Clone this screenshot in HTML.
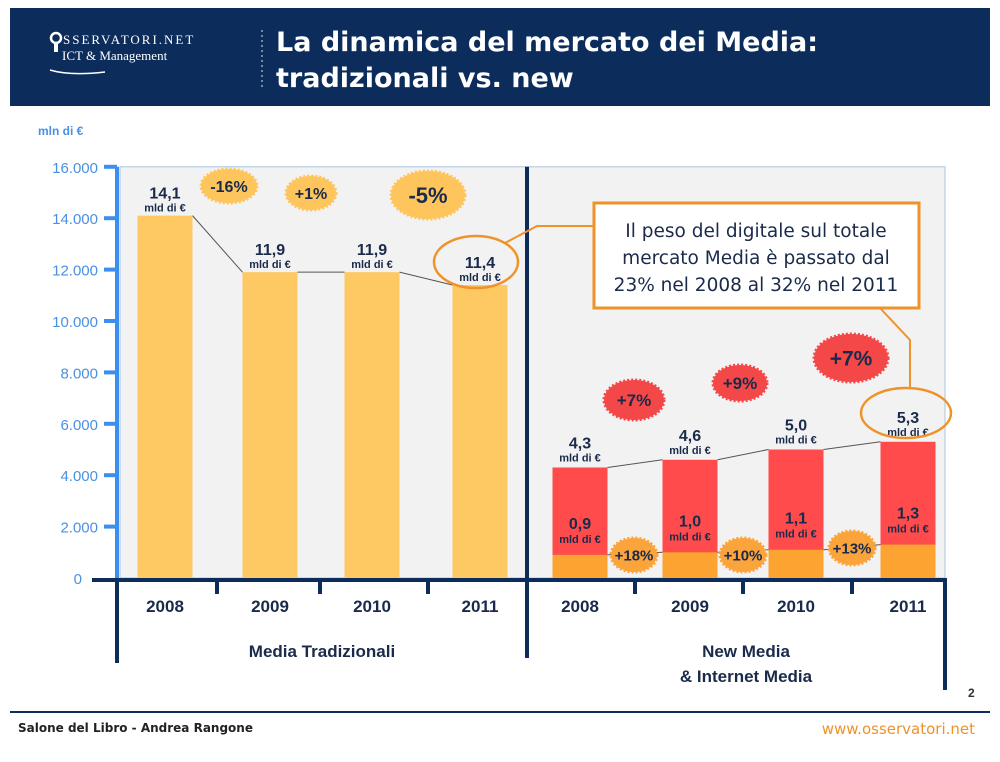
<!DOCTYPE html>
<html><head><meta charset="utf-8"><style>
body{margin:0;background:#fff;}
svg text{font-family:"Liberation Sans",sans-serif;}
</style></head><body>
<svg width="1000" height="757" xmlns="http://www.w3.org/2000/svg">
<rect x="10" y="8" width="980" height="98" fill="#0c2d5c"/>
<g>
<circle cx="56" cy="38" r="5" fill="none" stroke="#fff" stroke-width="2.5"/>
<rect x="54" y="43" width="4" height="9" fill="#fff"/>
<text x="63" y="44" fill="#fff" font-size="13" letter-spacing="2" style="font-family:'Liberation Serif',serif">SSERVATORI.NET</text>
<text x="62" y="60" fill="#fff" font-size="13" style="font-family:'Liberation Serif',serif">ICT &amp; Management</text>
<path d="M50 70 Q 70 76 105 72" stroke="#fff" fill="none" stroke-width="1.5"/>
</g>
<line x1="262" y1="30" x2="262" y2="90" stroke="#9ab" stroke-width="1.5" stroke-dasharray="2 3"/>
<text x="276" y="51" fill="#fff" font-size="27" font-weight="bold" style="font-family:'DejaVu Sans',sans-serif">La dinamica del mercato dei Media:</text>
<text x="276" y="87" fill="#fff" font-size="27" font-weight="bold" style="font-family:'DejaVu Sans',sans-serif">tradizionali vs. new</text>
<text x="38" y="135" fill="#4a90e2" font-size="12" font-weight="bold">mln di €</text>
<g id="chart"></g>
<line x1="10" y1="712" x2="990" y2="712" stroke="#0c2d5c" stroke-width="2"/>
<text x="18" y="732" fill="#222" font-size="12" font-weight="bold" style="font-family:'DejaVu Sans',sans-serif">Salone del Libro - Andrea Rangone</text>
<text x="975" y="734" fill="#f0922a" font-size="15" text-anchor="end" style="font-family:'DejaVu Sans',sans-serif">www.osservatori.net</text>
<text x="968" y="697" fill="#333" font-size="12" font-weight="bold">2</text>
</svg>
<script>
const years=["2008","2009","2010","2011"];
const tradValues=[14100,11900,11900,11400];
const tradLabels=["14,1","11,9","11,9","11,4"];
const newTotal=[4300,4600,5000,5300];
const newTotalLabels=["4,3","4,6","5,0","5,3"];
const internetValues=[900,1000,1100,1300];
const internetLabels=["0,9","1,0","1,1","1,3"];
const tradGrowth=["-16%","+1%","-5%"];
const newGrowth=["+7%","+9%","+7%"];
const internetGrowth=["+18%","+10%","+13%"];
const yTicks=[0,2000,4000,6000,8000,10000,12000,14000,16000];
const yTickLabels=["0","2.000","4.000","6.000","8.000","10.000","12.000","14.000","16.000"];

const NS="http://www.w3.org/2000/svg";
const g=document.getElementById('chart');
const y0=578,scale=25.7/1000;
const y=v=>y0-v*scale;
const leftCx=[165,270,372,480], rightCx=[580,690,796,908];
const bw=55;
function mk(tag,a,parent){const e=document.createElementNS(NS,tag);for(const k in a)e.setAttribute(k,a[k]);(parent||g).appendChild(e);return e;}
function txt(x,yy,s,size,fill,anchor){const t=mk('text',{x:x,y:yy,'font-size':size,fill:fill,'text-anchor':anchor||'middle','font-weight':'bold'});t.textContent=s;return t;}
const bg=mk('rect',{x:120,y:y(16000),width:825,height:y0-y(16000),fill:'#f2f2f2',stroke:'#a9c4e0','stroke-width':1});


const ax=mk('line',{x1:117,y1:y(16000),x2:117,y2:y0,stroke:'#3d8fef','stroke-width':4});


yTicks.forEach((v,i)=>{
  if(v>0) mk('line',{x1:104,y1:y(v),x2:117,y2:y(v),stroke:'#3d8fef','stroke-width':4});
  const t=txt(v===0?82:98,y(v)+6,yTickLabels[i],15,'#4a90e2','end');
  t.setAttribute('font-weight','normal');
  
  
});
const dv=mk('line',{x1:527,y1:y(16000),x2:527,y2:658,stroke:'#0c2d5c','stroke-width':4});


function badge(cx,cy,rx,ry,fill,s,size,name){
  const e=mk('ellipse',{cx:cx,cy:cy,rx:rx,ry:ry,fill:fill,stroke:fill,'stroke-width':3,'stroke-dasharray':'2 2'});
  
  
  txt(cx,cy+size*0.36,s,size,'#1a2a4a');
}
for(let i=0;i<3;i++){
  mk('line',{x1:leftCx[i]+bw/2,y1:y(tradValues[i]),x2:leftCx[i+1]-bw/2,y2:y(tradValues[i+1]),stroke:'#555','stroke-width':1});
  mk('line',{x1:rightCx[i]+bw/2,y1:y(newTotal[i]),x2:rightCx[i+1]-bw/2,y2:y(newTotal[i+1]),stroke:'#555','stroke-width':1});
  mk('line',{x1:rightCx[i]+bw/2,y1:y(internetValues[i]),x2:rightCx[i+1]-bw/2,y2:y(internetValues[i+1]),stroke:'#555','stroke-width':1});
}
years.forEach((yr,i)=>{
  let b=mk('rect',{x:leftCx[i]-bw/2,y:y(tradValues[i]),width:bw,height:tradValues[i]*scale,fill:'#fec862'});
  
  
  b=mk('rect',{x:rightCx[i]-bw/2,y:y(newTotal[i]),width:bw,height:newTotal[i]*scale,fill:'#ff4b4b'});
  
  
  b=mk('rect',{x:rightCx[i]-bw/2,y:y(internetValues[i]),width:bw,height:internetValues[i]*scale,fill:'#fca331'});
  
  
  txt(leftCx[i],y(tradValues[i])-17,tradLabels[i],16,'#1a2a4a');
  txt(leftCx[i],y(tradValues[i])-4,'mld di €',11,'#1a2a4a');
  txt(rightCx[i],y(newTotal[i])-19,newTotalLabels[i],16,'#1a2a4a');
  txt(rightCx[i],y(newTotal[i])-6,'mld di €',11,'#1a2a4a');
  txt(rightCx[i],y(internetValues[i])-26,internetLabels[i],16,'#1a2a4a');
  txt(rightCx[i],y(internetValues[i])-12,'mld di €',11,'#1a2a4a');
  const t1=txt(leftCx[i],612,yr,17,'#1a2a4a');
  
  
  const t2=txt(rightCx[i],612,yr,17,'#1a2a4a');
  
  
});
const xa=mk('line',{x1:92,y1:y0+2,x2:945,y2:y0+2,stroke:'#0c2d5c','stroke-width':4});


mk('line',{x1:117,y1:y0,x2:117,y2:663,stroke:'#0c2d5c','stroke-width':4});
mk('line',{x1:945,y1:y0,x2:945,y2:690,stroke:'#0c2d5c','stroke-width':4});
[217,320,428,635,743,852].forEach(x=>mk('line',{x1:x,y1:y0,x2:x,y2:594,stroke:'#0c2d5c','stroke-width':4}));
txt(322,657,'Media Tradizionali',17,'#1a2a4a');
txt(746,657,'New Media',17,'#1a2a4a');
txt(746,682,'& Internet Media',17,'#1a2a4a');
const tb=[[229,186,28,17,16],[311,193,25,17,16],[428,195,37,24,22]];
tradGrowth.forEach((s,i)=>badge(tb[i][0],tb[i][1],tb[i][2],tb[i][3],'#fdc55c',s,tb[i][4],'growth-badge-traditional'));
const nb=[[634,400,30,20,17],[740,383,27,18,17],[851,358,37,24,21]];
newGrowth.forEach((s,i)=>badge(nb[i][0],nb[i][1],nb[i][2],nb[i][3],'#f44848',s,nb[i][4],'growth-badge-new-media'));
const ib=[[634,555,23,17,15],[743,555,23,17,15],[852,548,23,17,15]];
internetGrowth.forEach((s,i)=>badge(ib[i][0],ib[i][1],ib[i][2],ib[i][3],'#fba43b',s,ib[i][4],'growth-badge-internet'));
mk('polyline',{points:'593,226 537,226 505,243',fill:'none',stroke:'#f0922a','stroke-width':2});
mk('polyline',{points:'880,308 910,340 910,388',fill:'none',stroke:'#f0922a','stroke-width':2});
mk('ellipse',{cx:476,cy:262,rx:42,ry:26,fill:'none',stroke:'#f0922a','stroke-width':2.5});
mk('ellipse',{cx:906,cy:413,rx:45,ry:25,fill:'none',stroke:'#f0922a','stroke-width':2.5});
const cb=mk('rect',{x:594,y:203,width:325,height:105,fill:'#fff',stroke:'#f0922a','stroke-width':3});


['Il peso del digitale sul totale','mercato Media è passato dal','23% nel 2008 al 32% nel 2011'].forEach((s,i)=>{
  const t=txt(756,237+i*27,s,18.5,'#1a2a4a');
  t.setAttribute('font-weight','normal');
  t.setAttribute('style',"font-family:'DejaVu Sans',sans-serif");
});
</script>
</body></html>
